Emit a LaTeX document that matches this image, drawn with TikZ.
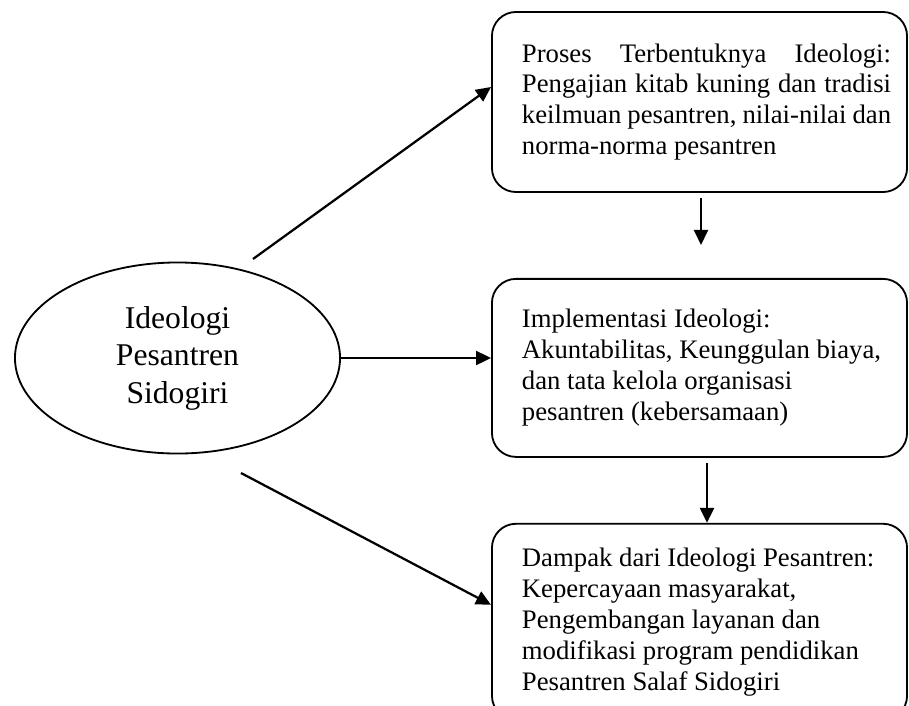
\documentclass[tikz,border=0pt]{standalone}
\usepackage{fontspec}
\setmainfont{Liberation Serif}
\usepackage{tikz}
\usetikzlibrary{positioning, calc, arrows.meta, shapes.geometric}
\newcommand{\isikotak}[2][\raggedright]{\hspace*{0.35cm}\parbox{9.225cm}{#1#2}}
\tikzset{
    ideabox/.style={
        draw, line width=1.3pt, rounded corners=0.6cm,
        minimum width=10.375cm, inner xsep=0.4cm,
        font=\fontsize{19}{22}\selectfont, anchor=center
    },
    rootnode/.style={
        ellipse, draw, line width=1.3pt, inner sep=0pt,
        minimum width=8.125cm, minimum height=4.775cm,
        align=center, font=\fontsize{22.5}{26.7}\selectfont
    },
    ptr/.style={
        -{Triangle[length=0.375cm, width=0.35cm]}, line width=1.6pt, black
    }
}

\begin{document}
\begin{tikzpicture}[x=0.025cm, y=-0.025cm]
        \useasboundingbox (0,0) rectangle (909,705);

        % ======================================
        % NODE UTAMA (ELIPS)
        % ======================================
        \node[rootnode] (ideo) at (177.5,358) {Ideologi\\Pesantren\\Sidogiri};

        % ======================================
        % KOTAK-KOTAK DI KANAN
        % ======================================
        \node[ideabox, minimum height=4.5cm] (proses) at (699.5,102)
            {\isikotak[\hyphenpenalty=10000]{Proses Terbentuknya Ideologi:\linebreak
             Pengajian kitab kuning dan tradisi\linebreak
             keilmuan pesantren, nilai-nilai dan\linebreak
             norma-norma pesantren}};
        \node[ideabox, minimum height=4.45cm, below=2.125cm of proses] (impl)
            {\isikotak{Implementasi Ideologi:\\
             Akuntabilitas, Keunggulan biaya,\\
             dan tata kelola organisasi\\
             pesantren (kebersamaan)}};
        \node[ideabox, minimum height=4.9cm, below=1.625cm of impl] (dampak)
            {\isikotak{Dampak dari Ideologi Pesantren:\\
             Kepercayaan masyarakat,\\
             Pengembangan layanan dan\\
             modifikasi program pendidikan\\
             Pesantren Salaf Sidogiri}};

        % ======================================
        % PANAH
        % ======================================
        \coordinate (atas) at (253,259);
        \coordinate (bawah) at (241,473);
        \coordinate (v1a) at ($(proses.south)+(1.5,5)$);
        \coordinate (v1b) at ($(impl.north)+(1.5,-33)$);
        \coordinate (v2a) at ($(impl.south)+(7.5,5)$);
        \coordinate (v2b) at ($(dampak.north)+(7.5,0)$);

        \draw[ptr] (atas) -- ($(proses.west)+(0,-15)$);
        \draw[ptr] (ideo.east) -- (ideo.east -| impl.west);
        \draw[ptr] (bawah) -- ($(dampak.west)+(0,-17)$);
        \draw[ptr] (v1a) -- (v1b);
        \draw[ptr] (v2a) -- (v2b);

    \end{tikzpicture}
\end{document}
